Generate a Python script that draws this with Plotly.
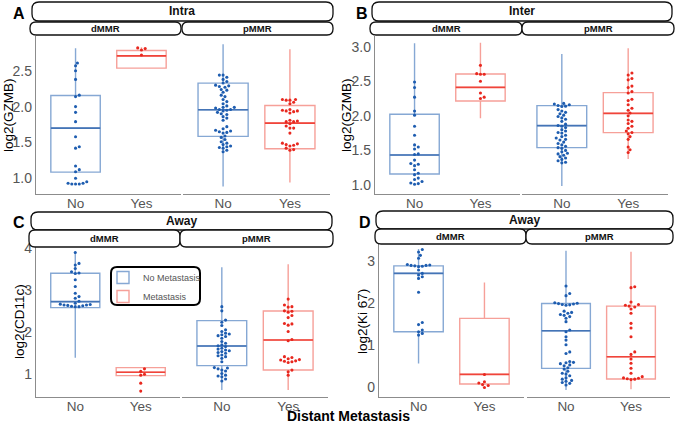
import plotly.graph_objects as go

W, H = 681, 423

# ---------------- data ----------------
categories = ["No", "Yes"]
mmr_groups = ["dMMR", "pMMR"]
legend_names = ["No Metastasis", "Metastasis"]
panel_letters = ["A", "B", "C", "D"]
panel_titles = ["Intra", "Inter", "Away", "Away"]
y_titles = ["log2(GZMB)", "log2(GZMB)", "log2(CD11c)", "log2(Ki 67)"]
x_title = "Distant Metastasis"

A_ticks = [1.0, 1.5, 2.0, 2.5]
B_ticks = [1.0, 1.5, 2.0, 2.5, 3.0]
C_ticks = [1, 2, 3, 4]
D_ticks = [0, 1, 2, 3]

# individual observations
A_dMMR_No = [2.61, 2.57, 2.50, 2.38, 2.16, 2.14, 2.00, 1.92, 1.79, 1.58, 1.44, 1.42, 1.17,
             1.12, 1.09, 1.00, 0.95, 0.93, 0.92, 0.92, 0.92, 0.93]
A_dMMR_Yes = [2.82, 2.81, 2.79, 2.72]
A_pMMR_No = [2.44, 2.44, 2.41, 2.38, 2.35, 2.33, 2.30, 2.29, 2.28, 2.27, 2.24, 2.23, 2.20, 2.16,
             2.14, 2.10, 2.07, 2.04, 2.01, 1.99, 1.99, 1.98, 1.96, 1.96, 1.95, 1.94, 1.92, 1.90,
             1.89, 1.86, 1.84, 1.81, 1.72, 1.69, 1.67, 1.66, 1.65, 1.64, 1.63, 1.59, 1.57, 1.54,
             1.51, 1.49, 1.47, 1.45, 1.44, 1.43, 1.42, 1.39, 1.37]
A_pMMR_Yes = [2.10, 2.10, 2.09, 2.09, 2.06, 2.04, 1.96, 1.95, 1.94, 1.94, 1.93, 1.91, 1.81, 1.80,
              1.79, 1.79, 1.76, 1.73, 1.70, 1.70, 1.63, 1.49, 1.48, 1.47, 1.46, 1.45, 1.42, 1.40,
              1.39]

B_dMMR_No = [2.49, 2.41, 2.27, 2.07, 2.01, 1.85, 1.72, 1.58, 1.55, 1.52, 1.45, 1.44, 1.36, 1.31,
             1.30, 1.28, 1.22, 1.17, 1.15, 1.10, 1.08, 1.05, 1.03, 1.02, 1.01]
B_dMMR_Yes = [2.73, 2.61, 2.60, 2.60, 2.50, 2.33, 2.27, 2.25]
B_pMMR_No = [2.18, 2.17, 2.16, 2.15, 2.14, 2.135, 2.09, 2.07, 2.05, 2.03, 2.01, 1.99, 1.97, 1.95,
             1.92, 1.88, 1.86, 1.85, 1.83, 1.80, 1.78, 1.76, 1.75, 1.72, 1.70, 1.68, 1.66, 1.65,
             1.62, 1.60, 1.58, 1.56, 1.54, 1.53, 1.50, 1.48, 1.46, 1.45, 1.43, 1.41, 1.39, 1.37,
             1.35, 1.33, 1.32]
B_pMMR_Yes = [2.62, 2.59, 2.54, 2.52, 2.43, 2.41, 2.35, 2.33, 2.24, 2.22, 2.16, 2.11, 2.08, 2.04,
              2.00, 1.94, 1.92, 1.89, 1.85, 1.82, 1.78, 1.76, 1.74, 1.70, 1.66, 1.55, 1.51, 1.47]

C_dMMR_No = [3.90, 3.64, 3.60, 3.52, 3.44, 3.41, 3.40, 3.25, 3.09, 2.93, 2.85, 2.81, 2.74, 2.69,
             2.67, 2.66, 2.65, 2.65, 2.64, 2.63, 2.62, 2.61, 2.61]
C_dMMR_Yes = [1.13, 1.07, 1.00, 0.98, 0.79, 0.60]
C_pMMR_No = [2.61, 2.51, 2.29, 2.24, 2.16, 2.06, 2.02, 1.98, 1.96, 1.94, 1.92, 1.90, 1.86, 1.78,
             1.74, 1.70, 1.68, 1.66, 1.62, 1.60, 1.58, 1.56, 1.54, 1.52, 1.50, 1.46, 1.44, 1.42,
             1.38, 1.30, 1.16, 1.15, 1.13, 1.10, 1.08, 1.02, 0.98, 0.96, 0.94, 0.89, 0.84]
C_pMMR_Yes = [2.79, 2.65, 2.61, 2.60, 2.51, 2.50, 2.48, 2.40, 2.35, 2.21, 2.20, 2.17, 2.02, 1.83,
              1.80, 1.42, 1.40, 1.37, 1.35, 1.34, 1.32, 1.31, 1.30, 1.28, 1.10, 1.06, 0.98]

D_dMMR_No = [3.27, 3.21, 3.13, 3.06, 2.91, 2.90, 2.89, 2.89, 2.88, 2.87, 2.86, 2.78, 2.70, 2.66,
             2.62, 2.58, 2.25, 1.53, 1.48, 1.35, 1.31, 1.27, 1.23]
D_dMMR_Yes = [0.29, 0.12, 0.09, 0.05, 0.03, -0.02]
D_pMMR_No = [2.40, 2.22, 2.17, 2.00, 1.99, 1.98, 1.97, 1.96, 1.95, 1.94, 1.80, 1.77, 1.75, 1.72,
             1.70, 1.67, 1.63, 1.55, 1.35, 1.31, 1.19, 1.11, 1.00, 0.83, 0.79, 0.60, 0.58, 0.57,
             0.55, 0.52, 0.50, 0.45, 0.42, 0.37, 0.32, 0.30, 0.26, 0.21, 0.18, 0.15, 0.13, 0.10,
             0.08, 0.04]
D_pMMR_Yes = [2.38, 2.36, 2.02, 1.96, 1.94, 1.92, 1.90, 1.85, 1.75, 1.51, 1.40, 1.19, 0.83, 0.77,
              0.66, 0.56, 0.44, 0.32, 0.24, 0.21, 0.20, 0.19, 0.18, 0.17]

# box statistics, order: dMMR-No, dMMR-Yes, pMMR-No, pMMR-Yes
A_q1 = [1.086, 2.537, 1.584, 1.412]
A_med = [1.700, 2.709, 1.956, 1.770]
A_q3 = [2.156, 2.784, 2.328, 2.016]
A_lo = [1.086, 2.537, 0.886, 0.942]
A_hi = [2.816, 2.830, 2.872, 2.800]

B_q1 = [1.159, 2.214, 1.540, 1.757]
B_med = [1.434, 2.412, 1.858, 2.036]
B_q3 = [2.022, 2.605, 2.147, 2.335]
B_lo = [1.159, 1.964, 0.985, 1.376]
B_hi = [3.048, 3.058, 2.894, 2.976]

C_q1 = [2.587, 0.968, 1.206, 1.103]
C_med = [2.730, 1.048, 1.675, 1.817]
C_q3 = [3.405, 1.159, 2.278, 2.508]
C_lo = [1.397, 0.968, 0.627, 0.627]
C_hi = [3.920, 1.159, 3.548, 3.619]

D_q1 = [1.310, 0.063, 0.437, 0.183]
D_med = [2.700, 0.294, 1.333, 0.714]
D_q3 = [2.880, 1.627, 1.984, 1.920]
D_lo = [0.556, 0.063, -0.079, -0.063]
D_hi = [3.280, 2.484, 3.238, 3.214]

panels = [
    dict(points=[A_dMMR_No, A_dMMR_Yes, A_pMMR_No, A_pMMR_Yes], q1=A_q1, med=A_med, q3=A_q3,
         lo=A_lo, hi=A_hi, ticks=A_ticks, fmt=".1f"),
    dict(points=[B_dMMR_No, B_dMMR_Yes, B_pMMR_No, B_pMMR_Yes], q1=B_q1, med=B_med, q3=B_q3,
         lo=B_lo, hi=B_hi, ticks=B_ticks, fmt=".1f"),
    dict(points=[C_dMMR_No, C_dMMR_Yes, C_pMMR_No, C_pMMR_Yes], q1=C_q1, med=C_med, q3=C_q3,
         lo=C_lo, hi=C_hi, ticks=C_ticks, fmt="d"),
    dict(points=[D_dMMR_No, D_dMMR_Yes, D_pMMR_No, D_pMMR_Yes], q1=D_q1, med=D_med, q3=D_q3,
         lo=D_lo, hi=D_hi, ticks=D_ticks, fmt="d"),
]

# ---------------- layout geometry (pixels) ----------------
geom = [
    dict(sub=[(36, 181), (183, 330)], y=(36, 194), yr=(0.78, 2.986),
         strip=(32, 333, 2, 21), facet=[(30, 181), (182, 333)], fy=(22, 35),
         letter=(19, 13), ytitle=(8, 115)),
    dict(sub=[(375, 520), (522, 668)], y=(36, 194), yr=(0.87, 3.154),
         strip=(372, 672, 2, 21), facet=[(370, 522), (522, 674)], fy=(22, 35),
         letter=(362, 13), ytitle=(346, 115)),
    dict(sub=[(36, 180), (182, 328)], y=(247, 397), yr=(0.46, 4.03),
         strip=(31, 332, 212, 230), facet=[(29, 180), (180, 333)], fy=(230, 247),
         letter=(19, 222), ytitle=(19, 322)),
    dict(sub=[(379, 524), (527, 670)], y=(244, 397), yr=(-0.245, 3.40),
         strip=(376, 673, 211, 229), facet=[(375, 526), (526, 673)], fy=(229, 244),
         letter=(365, 222), ytitle=(362, 322)),
]

FONT = "Liberation Sans, Arial, Helvetica, sans-serif"
box_col = ["#86a8d4", "#f6a099"]
med_col = ["#4474b6", "#f0443a"]
pt_col = ["#1e5db0", "#e8281f"]
axis_col = "#8c8c8c"
BOXW = 0.75
XR = (0.4, 2.6)


def pxx(x):
    return x / W


def pyy(y):
    return 1 - y / H


def swarm(vals, sx, sy, d=3.4):
    order = sorted(range(len(vals)), key=lambda i: vals[i])
    placed = []
    offs = [0.0] * len(vals)
    steps = [0]
    for j in range(1, 30):
        steps += [j, -j]
    for i in order:
        yp = vals[i] * sy
        xp = 0.0
        for s in steps:
            xp = s * d * 0.55
            if all((xp - a) ** 2 + (yp - b) ** 2 >= d * d * 0.92 for a, b in placed):
                break
        placed.append((xp, yp))
        offs[i] = xp / sx
    return offs


def rrect(x0, x1, y0, y1, r):
    pts = [("M", [(x0 + r, y0)]), ("L", [(x1 - r, y0)]), ("Q", [(x1, y0), (x1, y0 + r)]),
           ("L", [(x1, y1 - r)]), ("Q", [(x1, y1), (x1 - r, y1)]), ("L", [(x0 + r, y1)]),
           ("Q", [(x0, y1), (x0, y1 - r)]), ("L", [(x0, y0 + r)]), ("Q", [(x0, y0), (x0 + r, y0)])]
    s = ""
    for cmd, pp in pts:
        s += cmd + " " + " ".join(f"{pxx(a):.5f},{pyy(b):.5f}" for a, b in pp) + " "
    return s + "Z"


fig = go.Figure()
layout = dict(width=W, height=H, margin=dict(l=0, r=0, t=0, b=0, autoexpand=False),
              paper_bgcolor="white", plot_bgcolor="white",
              font=dict(family=FONT, color="#000"), shapes=[], annotations=[],
              hovermode=False)

shown = [False, False]
for p, (pan, g) in enumerate(zip(panels, geom)):
    ylo, yhi = g["yr"]
    for s in range(2):
        n = p * 2 + s + 1
        xa, ya = f"x{n}", f"y{n}"
        x0, x1 = g["sub"][s]
        sx = (x1 - x0) / (XR[1] - XR[0])
        sy = (g["y"][1] - g["y"][0]) / (yhi - ylo)
        for c in range(2):
            k = s * 2 + c
            pos = c + 1
            first = (not shown[c])
            shown[c] = True
            fig.add_trace(go.Box(
                x=[pos], q1=[pan["q1"][k]], median=[pan["med"][k]], q3=[pan["q3"][k]],
                lowerfence=[pan["lo"][k]], upperfence=[pan["hi"][k]],
                width=BOXW, whiskerwidth=0, boxpoints=False,
                line=dict(color=box_col[c], width=1.4), fillcolor="rgba(255,255,255,0)",
                name=legend_names[c], legendgroup=legend_names[c], showlegend=first,
                xaxis=xa, yaxis=ya))
            fig.add_trace(go.Scatter(
                x=[pos - BOXW / 2, pos + BOXW / 2], y=[pan["med"][k]] * 2, mode="lines",
                line=dict(color=med_col[c], width=1.6), showlegend=False,
                xaxis=xa, yaxis=ya))
            vals = pan["points"][k]
            offs = swarm(vals, sx, sy)
            fig.add_trace(go.Scatter(
                x=[pos + o for o in offs], y=vals, mode="markers",
                marker=dict(color=pt_col[c], size=3.1, line=dict(width=0)),
                showlegend=False, xaxis=xa, yaxis=ya))
        xkey = "xaxis" if n == 1 else f"xaxis{n}"
        ykey = "yaxis" if n == 1 else f"yaxis{n}"
        layout[xkey] = dict(domain=[pxx(x0), pxx(x1)], range=list(XR), anchor=ya,
                            tickvals=[1, 2], ticktext=categories, showgrid=False,
                            zeroline=False, showline=True, linecolor=axis_col, linewidth=1.2,
                            ticks="", ticklabelstandoff=-3,
                            tickfont=dict(size=13.5, color="#555"), fixedrange=True)
        layout[ykey] = dict(domain=[pyy(g["y"][1]), pyy(g["y"][0])], range=[ylo, yhi],
                            anchor=xa, showgrid=False, zeroline=False,
                            showline=(s == 0), linecolor=axis_col, linewidth=1.2,
                            showticklabels=(s == 0), tickvals=pan["ticks"],
                            tickformat=pan["fmt"], ticks="",
                            tickfont=dict(size=14, color="#555"), fixedrange=True)

    # strips
    sx0, sx1, sy0, sy1 = g["strip"]
    layout["shapes"].append(dict(type="path", xref="paper", yref="paper",
                                 path=rrect(sx0, sx1, sy0, sy1, 7),
                                 fillcolor="white", line=dict(color="#111", width=1.3)))
    layout["annotations"].append(dict(text=f"<b>{panel_titles[p]}</b>", xref="paper",
                                      yref="paper", x=pxx((sx0 + sx1) / 2),
                                      y=pyy((sy0 + sy1) / 2), showarrow=False,
                                      xanchor="center", yanchor="middle",
                                      font=dict(size=12, color="#111")))
    fy0, fy1 = g["fy"]
    for s in range(2):
        fx0, fx1 = g["facet"][s]
        layout["shapes"].append(dict(type="path", xref="paper", yref="paper",
                                     path=rrect(fx0, fx1, fy0, fy1, 6),
                                     fillcolor="white", line=dict(color="#111", width=1.3)))
        layout["annotations"].append(dict(text=f"<b>{mmr_groups[s]}</b>", xref="paper",
                                          yref="paper", x=pxx((fx0 + fx1) / 2),
                                          y=pyy((fy0 + fy1) / 2), showarrow=False,
                                          xanchor="center", yanchor="middle",
                                          font=dict(size=9.5, color="#111")))
    lx, ly = g["letter"]
    layout["annotations"].append(dict(text=f"<b>{panel_letters[p]}</b>", xref="paper",
                                      yref="paper", x=pxx(lx), y=pyy(ly), showarrow=False,
                                      xanchor="center", yanchor="middle",
                                      font=dict(size=16, color="#000")))
    tx, ty = g["ytitle"]
    layout["annotations"].append(dict(text=y_titles[p], xref="paper", yref="paper",
                                      x=pxx(tx), y=pyy(ty), showarrow=False, textangle=-90,
                                      xanchor="center", yanchor="middle",
                                      font=dict(size=13.5, color="#000")))

layout["annotations"].append(dict(text=f"<b>{x_title}</b>", xref="paper", yref="paper",
                                  x=pxx(348), y=pyy(416), showarrow=False,
                                  xanchor="center", yanchor="middle",
                                  font=dict(size=14, color="#000")))

# legend frame
layout["shapes"].append(dict(type="path", xref="paper", yref="paper",
                             path=rrect(111, 200, 267, 305, 6),
                             fillcolor="rgba(0,0,0,0)", line=dict(color="#000", width=2)))
layout["legend"] = dict(x=pxx(103), y=pyy(263), xanchor="left", yanchor="top",
                        bgcolor="rgba(0,0,0,0)", borderwidth=0,
                        font=dict(size=9, color="#555"), itemwidth=30, tracegroupgap=0)
layout["showlegend"] = True

fig.update_layout(**layout)
fig.write_html("out.html", config={"displayModeBar": False, "staticPlot": True},
               post_script="document.body.style.margin='0';document.body.style.overflow='hidden';")
